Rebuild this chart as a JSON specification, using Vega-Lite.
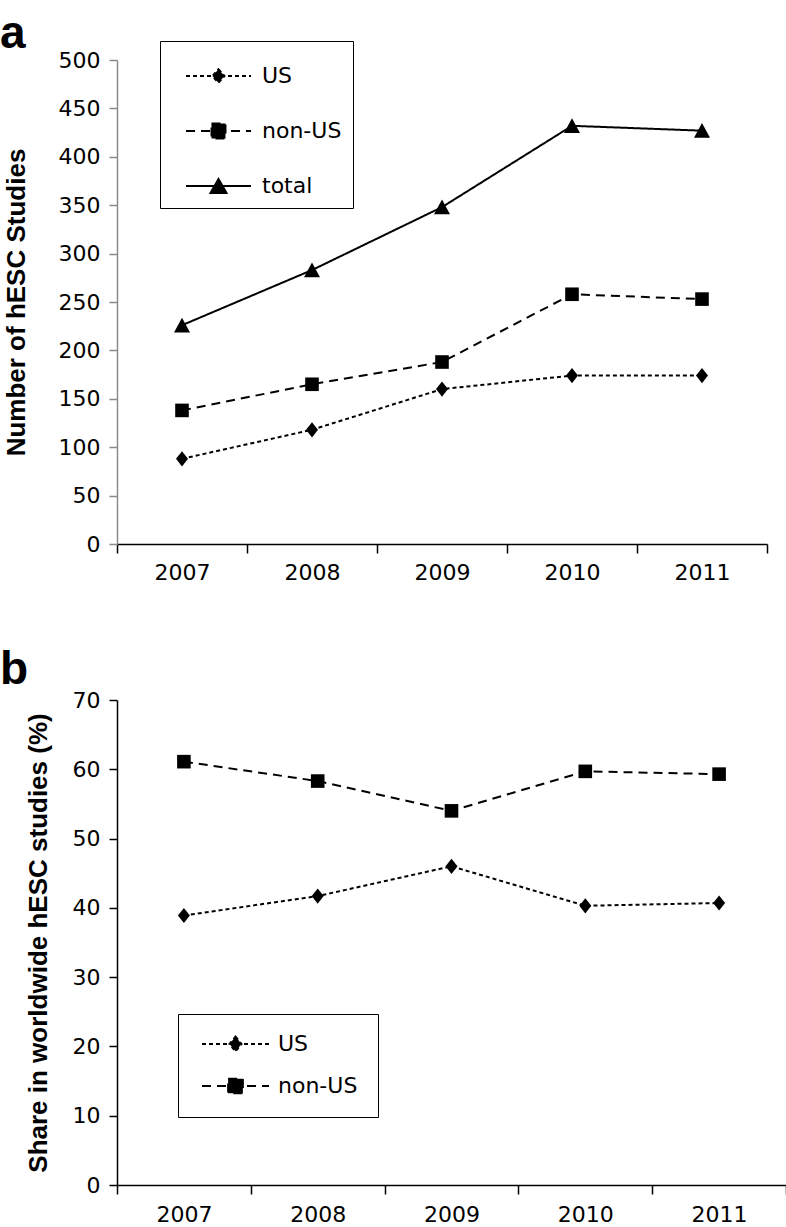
{
  "$schema": "https://vega.github.io/schema/vega-lite/v6.json",
  "padding": {"left": 0, "top": 10, "right": 0, "bottom": 0},
  "background": "white",
  "spacing": 64,
  "resolve": {"scale": {"strokeDash": "independent"}, "legend": {"strokeDash": "independent"}},
  "datasets": {
    "counts": [
      {"year": "2007", "series": "US", "value": 88},
      {"year": "2008", "series": "US", "value": 118},
      {"year": "2009", "series": "US", "value": 160},
      {"year": "2010", "series": "US", "value": 174},
      {"year": "2011", "series": "US", "value": 174},
      {"year": "2007", "series": "non-US", "value": 138},
      {"year": "2008", "series": "non-US", "value": 165},
      {"year": "2009", "series": "non-US", "value": 188},
      {"year": "2010", "series": "non-US", "value": 258},
      {"year": "2011", "series": "non-US", "value": 253},
      {"year": "2007", "series": "total", "value": 226},
      {"year": "2008", "series": "total", "value": 283},
      {"year": "2009", "series": "total", "value": 348},
      {"year": "2010", "series": "total", "value": 432},
      {"year": "2011", "series": "total", "value": 427}
    ],
    "shares": [
      {"year": "2007", "series": "US", "value": 38.9},
      {"year": "2008", "series": "US", "value": 41.7},
      {"year": "2009", "series": "US", "value": 46.0},
      {"year": "2010", "series": "US", "value": 40.3},
      {"year": "2011", "series": "US", "value": 40.7},
      {"year": "2007", "series": "non-US", "value": 61.1},
      {"year": "2008", "series": "non-US", "value": 58.3},
      {"year": "2009", "series": "non-US", "value": 54.0},
      {"year": "2010", "series": "non-US", "value": 59.7},
      {"year": "2011", "series": "non-US", "value": 59.3}
    ]
  },
  "vconcat": [
    {
      "title": {"text": "a", "anchor": "start", "frame": "group", "font": "Liberation Sans", "fontWeight": "bold", "fontSize": 46, "color": "black", "baseline": "alphabetic", "dx": -117, "offset": -53},
      "width": 650,
      "height": 484,
      "data": {"name": "counts"},
      "encoding": {
        "x": {
          "field": "year", "type": "ordinal",
          "scale": {"type": "band", "paddingInner": 0, "paddingOuter": 0},
          "axis": {"title": null, "labelAngle": 0, "tickBand": "extent", "domainColor": "black", "tickColor": "black", "tickSize": 9, "labelPadding": 9, "labelFont": "DejaVu Sans", "labelFontSize": 22, "labelColor": "black", "domainWidth": 1.5, "tickWidth": 1.5}
        },
        "y": {
          "field": "value", "type": "quantitative",
          "scale": {"domain": [0, 500], "nice": false},
          "axis": {"title": "Number of hESC Studies", "values": [0, 50, 100, 150, 200, 250, 300, 350, 400, 450, 500], "grid": false, "domainColor": "#8a8a8a", "tickColor": "#8a8a8a", "tickSize": 8, "labelPadding": 9, "labelFont": "DejaVu Sans", "labelFontSize": 22, "labelColor": "black", "titleFont": "Liberation Sans", "titleFontWeight": "bold", "titleFontSize": 26, "titleColor": "black", "titlePadding": 29, "domainWidth": 1.5, "tickWidth": 1.5}
        }
      },
      "layer": [
        {
          "mark": {"type": "line", "color": "black", "strokeWidth": 2},
          "encoding": {
            "strokeDash": {
              "field": "series", "type": "nominal",
              "scale": {"domain": ["US", "non-US", "total"], "range": [[4, 3], [9, 6], [1, 0]]},
              "legend": {
                "orient": "none", "legendX": 43, "legendY": -19, "title": " ", "titleFontSize": 8, "titlePadding": 6, "direction": "vertical",
                "strokeColor": "black", "fillColor": "white", "padding": 11, "cornerRadius": 0,
                "symbolSize": 4225, "symbolStrokeWidth": 2, "symbolStrokeColor": "black", "symbolFillColor": "black", "symbolOffset": 14,
                "clipHeight": 20, "rowPadding": 33,
                "labelFont": "DejaVu Sans", "labelFontSize": 22, "labelColor": "black", "labelOffset": 10,
                "encode": {"symbols": {"update": {
                  "shape": {"signal": "datum.value === 'US' ? 'M-1,0H1M0,-0.21L0.185,0L0,0.21L-0.185,0Z' : datum.value === 'non-US' ? 'M-1,0H1M-0.215,-0.23H0.215V0.23H-0.215Z' : 'M-1,0H1M0,-0.215L0.246,0.215H-0.246Z'"},
                  "size": {"value": 4225},
                  "strokeWidth": {"value": 2},
                  "fill": {"value": "black"},
                  "stroke": {"value": "black"}
                }}}
              }
            }
          }
        },
        {
          "transform": [{"filter": "datum.series === 'US'"}],
          "mark": {"type": "point", "shape": "M0,-0.95L0.75,0L0,0.95L-0.75,0Z", "filled": true, "opacity": 1, "size": 256, "color": "black"}
        },
        {
          "transform": [{"filter": "datum.series === 'non-US'"}],
          "mark": {"type": "point", "shape": "M-0.85,-0.85H0.85V0.85H-0.85Z", "filled": true, "opacity": 1, "size": 256, "color": "black"}
        },
        {
          "transform": [{"filter": "datum.series === 'total'"}],
          "mark": {"type": "point", "shape": "M0,-0.95L1,0.9H-1Z", "filled": true, "opacity": 1, "size": 256, "color": "black"}
        }
      ]
    },
    {
      "title": {"text": "b", "anchor": "start", "frame": "group", "font": "Liberation Sans", "fontWeight": "bold", "fontSize": 46, "color": "black", "baseline": "alphabetic", "dx": -117, "offset": -41},
      "width": 669,
      "height": 485,
      "data": {"name": "shares"},
      "encoding": {
        "x": {
          "field": "year", "type": "ordinal",
          "scale": {"type": "band", "paddingInner": 0, "paddingOuter": 0},
          "axis": {"title": null, "labelAngle": 0, "tickBand": "extent", "domainColor": "black", "tickColor": "black", "tickSize": 9, "labelPadding": 10, "labelFont": "DejaVu Sans", "labelFontSize": 22, "labelColor": "black", "domainWidth": 1.5, "tickWidth": 1.5}
        },
        "y": {
          "field": "value", "type": "quantitative",
          "scale": {"domain": [0, 70], "nice": false},
          "axis": {"title": "Share in  worldwide hESC studies (%)", "values": [0, 10, 20, 30, 40, 50, 60, 70], "grid": false, "domainColor": "black", "tickColor": "black", "tickSize": 8, "labelPadding": 9, "labelFont": "DejaVu Sans", "labelFontSize": 22, "labelColor": "black", "titleFont": "Liberation Sans", "titleFontWeight": "bold", "titleFontSize": 26, "titleColor": "black", "titlePadding": 21, "domainWidth": 1.5, "tickWidth": 1.5}
        }
      },
      "layer": [
        {
          "mark": {"type": "line", "color": "black", "strokeWidth": 2},
          "encoding": {
            "strokeDash": {
              "field": "series", "type": "nominal",
              "scale": {"domain": ["US", "non-US"], "range": [[4, 3], [9, 6]]},
              "legend": {
                "orient": "none", "legendX": 61, "legendY": 314, "title": null, "direction": "vertical",
                "strokeColor": "black", "fillColor": "white", "padding": 20, "cornerRadius": 0,
                "symbolSize": 4489, "symbolStrokeWidth": 2, "symbolStrokeColor": "black", "symbolFillColor": "black", "symbolOffset": 3,
                "clipHeight": 20, "rowPadding": 20,
                "labelFont": "DejaVu Sans", "labelFontSize": 22, "labelColor": "black", "labelOffset": 8,
                "encode": {"symbols": {"update": {
                  "shape": {"signal": "datum.value === 'US' ? 'M-1,0H1M0,-0.22L0.18,0L0,0.22L-0.18,0Z' : 'M-1,0H1M-0.22,-0.22H0.22V0.22H-0.22Z'"},
                  "size": {"value": 4489},
                  "strokeWidth": {"value": 2},
                  "fill": {"value": "black"},
                  "stroke": {"value": "black"}
                }}}
              }
            }
          }
        },
        {
          "transform": [{"filter": "datum.series === 'US'"}],
          "mark": {"type": "point", "shape": "M0,-0.95L0.75,0L0,0.95L-0.75,0Z", "filled": true, "opacity": 1, "size": 256, "color": "black"}
        },
        {
          "transform": [{"filter": "datum.series === 'non-US'"}],
          "mark": {"type": "point", "shape": "M-0.85,-0.85H0.85V0.85H-0.85Z", "filled": true, "opacity": 1, "size": 256, "color": "black"}
        }
      ]
    }
  ],
  "config": {"view": {"stroke": null}}
}
